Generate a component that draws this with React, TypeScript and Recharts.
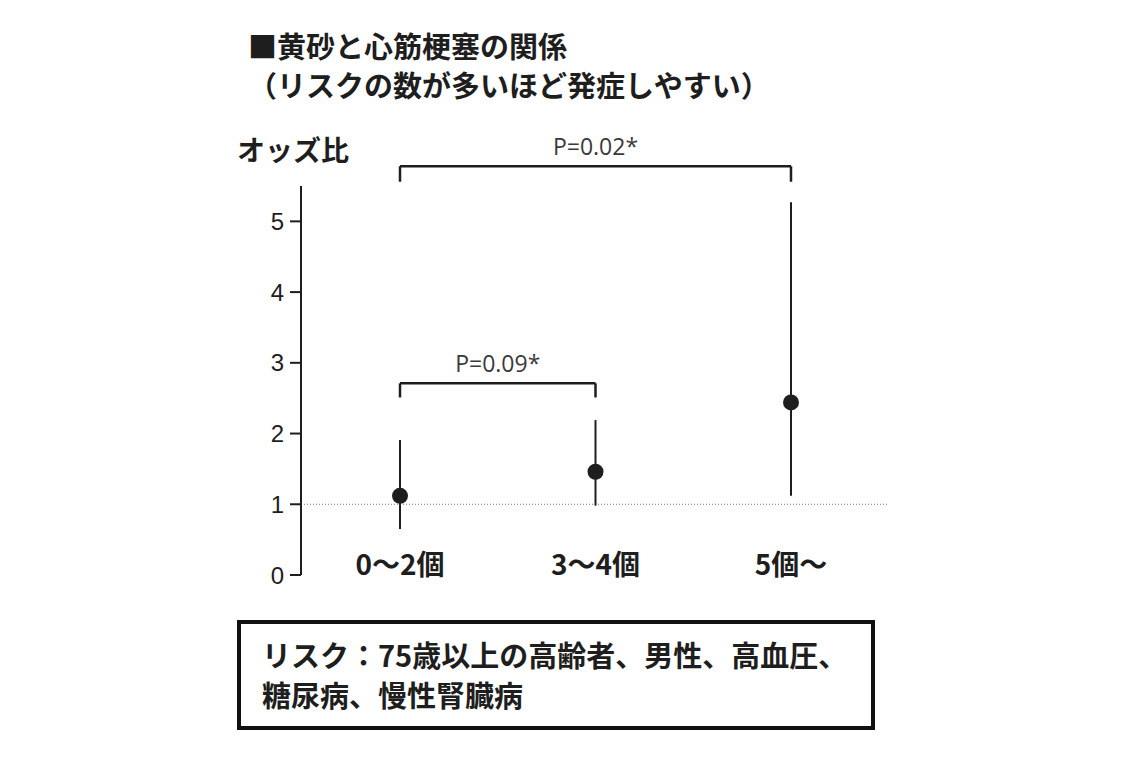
import React from "react";
import {
  ComposedChart,
  Scatter,
  ErrorBar,
  XAxis,
  YAxis,
  ReferenceLine,
} from "recharts";

// オッズ比と95%信頼区間
const CATEGORIES = ["0～2個", "3～4個", "5個～"];
const ODDS = [1.12, 1.46, 2.44];
const CI_LOW = [0.65, 0.98, 1.12];
const CI_HIGH = [1.91, 2.19, 5.27];
const Y_TICKS = [0, 1, 2, 3, 4, 5];

// 有意差の括弧: 対象カテゴリ、P値、括弧の高さ（オッズ比の目盛り）
const BRACKET_FROM = [0, 0];
const BRACKET_TO = [2, 1];
const BRACKET_LABELS = ["P=0.02*", "P=0.09*"];
const BRACKET_TOP = [5.78, 2.71];
const BRACKET_FOOT = [5.56, 2.51];

const data = CATEGORIES.map((label, i) => ({
  label,
  odds: ODDS[i],
  err: [ODDS[i] - CI_LOW[i], CI_HIGH[i] - ODDS[i]],
}));

const INK = "#1e1e1e";
const JP = '"Noto Sans CJK JP", "Noto Sans", sans-serif';

const CategoryTick = ({ x, y, payload }: any) => (
  <text
    x={x}
    y={y}
    textAnchor="middle"
    fill={INK}
    fontSize={28}
    fontWeight={700}
    fontFamily={JP}
  >
    {payload.value}
  </text>
);

const Dot = (props: any) => <circle cx={props.cx} cy={props.cy} r={8} fill={INK} />;

export default function App() {
  return (
    <div
      style={{
        position: "absolute",
        left: 0,
        top: 0,
        width: 1140,
        height: 759,
        background: "#fff",
        fontFamily: JP,
        color: INK,
      }}
    >
      <div style={{ position: "absolute", left: 248, top: 31, fontSize: 29, fontWeight: 700, lineHeight: "29px", whiteSpace: "nowrap" }}>
        ■黄砂と心筋梗塞の関係
      </div>
      <div style={{ position: "absolute", left: 248, top: 70, fontSize: 29, fontWeight: 700, lineHeight: "29px", whiteSpace: "nowrap" }}>
        （リスクの数が多いほど発症しやすい）
      </div>
      <div style={{ position: "absolute", left: 237, top: 135, fontSize: 28, fontWeight: 700, lineHeight: "28px", whiteSpace: "nowrap" }}>
        オッズ比
      </div>

      <div style={{ position: "absolute", left: 0, top: 0 }}>
        <ComposedChart
          width={1140}
          height={759}
          data={data}
          margin={{ left: 241, right: 252, top: 186, bottom: 154 }}
        >
          <XAxis
            dataKey="label"
            type="category"
            axisLine={false}
            tickLine={false}
            tickSize={0}
            tickMargin={0}
            height={30}
            padding={{ left: 99, right: 97 }}
            tick={<CategoryTick />}
          />
          <YAxis
            type="number"
            domain={[0, 5.5]}
            ticks={Y_TICKS}
            width={60}
            axisLine={{ stroke: INK, strokeWidth: 2 }}
            tickLine={{ stroke: INK, strokeWidth: 2 }}
            tickSize={11}
            tickMargin={6}
            tick={{ fill: INK, fontSize: 24, fontFamily: '"Liberation Sans Narrow", "Liberation Sans", sans-serif' }}
          />
          <ReferenceLine y={1} stroke="#777" strokeWidth={1} strokeDasharray="1 2" />
          {BRACKET_LABELS.map((label, i) => {
            const a = CATEGORIES[BRACKET_FROM[i]];
            const b = CATEGORIES[BRACKET_TO[i]];
            return (
              <React.Fragment key={label}>
                <ReferenceLine
                  ifOverflow="visible"
                  segment={[
                    { x: a, y: BRACKET_TOP[i] },
                    { x: b, y: BRACKET_TOP[i] },
                  ]}
                  stroke={INK}
                  strokeWidth={2.5}
                  label={{
                    value: label,
                    position: "top",
                    offset: 11,
                    fill: "#3a3a3a",
                    fontSize: 23,
                    fontFamily: '"Open Sans", "Noto Sans", sans-serif',
                  }}
                />
                <ReferenceLine
                  ifOverflow="visible"
                  segment={[
                    { x: a, y: BRACKET_TOP[i] },
                    { x: a, y: BRACKET_FOOT[i] },
                  ]}
                  stroke={INK}
                  strokeWidth={2.5}
                />
                <ReferenceLine
                  ifOverflow="visible"
                  segment={[
                    { x: b, y: BRACKET_TOP[i] },
                    { x: b, y: BRACKET_FOOT[i] },
                  ]}
                  stroke={INK}
                  strokeWidth={2.5}
                />
              </React.Fragment>
            );
          })}
          <Scatter dataKey="odds" shape={<Dot />} isAnimationActive={false}>
            <ErrorBar
              dataKey="err"
              direction="y"
              width={0}
              stroke={INK}
              strokeWidth={2}
              isAnimationActive={false}
            />
          </Scatter>
        </ComposedChart>
      </div>

      <div
        style={{
          position: "absolute",
          left: 237,
          top: 620,
          width: 630,
          height: 102,
          border: "4px solid #111",
          boxSizing: "content-box",
          fontSize: 29,
          fontWeight: 700,
          lineHeight: "40px",
        }}
      >
        <div style={{ position: "absolute", left: 21, top: 10, whiteSpace: "nowrap" }}>
          リスク：75歳以上の高齢者、男性、高血圧、
          <br />
          糖尿病、慢性腎臓病
        </div>
      </div>
    </div>
  );
}
